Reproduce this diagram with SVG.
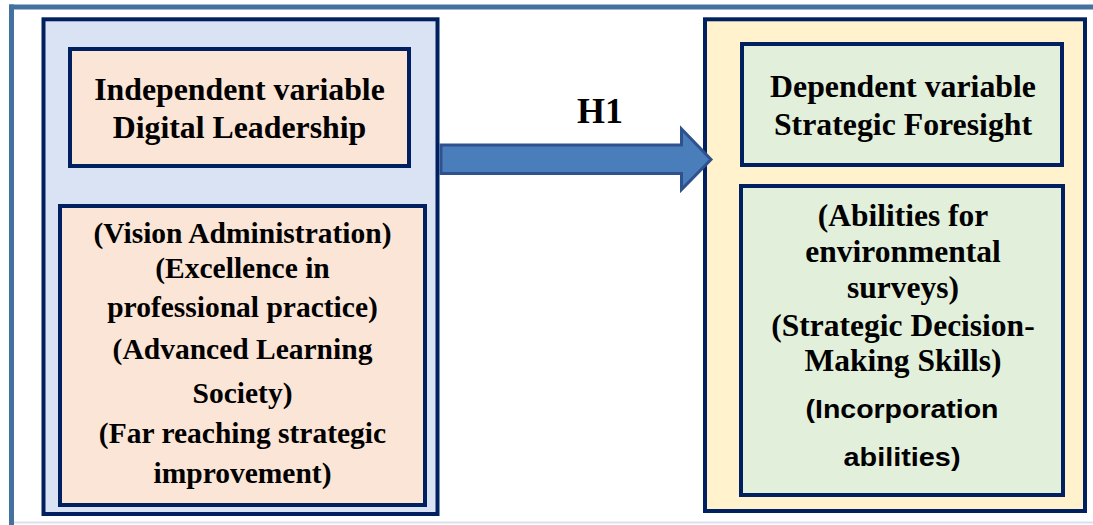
<svg xmlns="http://www.w3.org/2000/svg" width="1093" height="525" viewBox="0 0 1093 525">
<style>
.frame{fill:none;stroke:#4472a0;stroke-width:5}
.cont{stroke:#002060;stroke-width:4}
.box{stroke:#002060;stroke-width:4}
.t{font-family:"Liberation Serif","Times New Roman",serif;font-weight:bold;fill:#000;text-anchor:middle}
.s{font-family:"Liberation Sans",Arial,sans-serif;font-weight:bold;fill:#000;text-anchor:middle}
</style>
<rect width="1093" height="525" fill="#ffffff"/>
<g id="frame">
<line x1="9" y1="7" x2="1093" y2="7" class="frame"/>
<line x1="11.5" y1="4.5" x2="11.5" y2="525" class="frame"/>
<line x1="14" y1="522.5" x2="1093" y2="522.5" stroke="#d9e1ee" stroke-width="2"/>
</g>
<g id="independent-container">
<rect x="43.5" y="19.3" width="394" height="494.7" fill="#dae3f3" class="cont"/>
</g>
<g id="independent-title">
<rect x="70" y="49" width="339" height="117" fill="#fbe5d6" class="box"/>
<text class="t" font-size="31.8" x="239.5" y="100">Independent variable</text>
<text class="t" font-size="31.8" x="239.5" y="138">Digital Leadership</text>
</g>
<g id="independent-dimensions">
<rect x="60" y="206" width="365" height="299" fill="#fbe5d6" class="box"/>
<text class="t" font-size="29.5" x="242.5" y="243">(Vision Administration)</text>
<text class="t" font-size="29.5" x="242.5" y="278">(Excellence in</text>
<text class="t" font-size="29.5" x="242.5" y="317">professional practice)</text>
<text class="t" font-size="29.5" x="242.5" y="359">(Advanced Learning</text>
<text class="t" font-size="29.5" x="242.5" y="403">Society)</text>
<text class="t" font-size="29.5" x="242.5" y="443">(Far reaching strategic</text>
<text class="t" font-size="29.5" x="242.5" y="483">improvement)</text>
</g>
<g id="dependent-container">
<rect x="705" y="19.3" width="380" height="491.7" fill="#fff2cc" class="cont"/>
</g>
<g id="dependent-title">
<rect x="742" y="44" width="320" height="121" fill="#e2efda" class="box"/>
<text class="t" font-size="31.8" x="903" y="97">Dependent variable</text>
<text class="t" font-size="31.8" x="903" y="135">Strategic Foresight</text>
</g>
<g id="dependent-dimensions">
<rect x="741" y="186" width="322" height="309" fill="#e2efda" class="box"/>
<text class="t" font-size="31.5" x="903" y="226">(Abilities for</text>
<text class="t" font-size="31.5" x="903" y="262">environmental</text>
<text class="t" font-size="31.5" x="903" y="298">surveys)</text>
<text class="t" font-size="31.5" x="903" y="336">(Strategic Decision-</text>
<text class="t" font-size="31.5" x="903" y="371">Making Skills)</text>
<text class="s" font-size="26" x="902" y="418" textLength="193" lengthAdjust="spacingAndGlyphs">(Incorporation</text>
<text class="s" font-size="26" x="902" y="466" textLength="117" lengthAdjust="spacingAndGlyphs">abilities)</text>
</g>
<g id="connectors">
<polygon points="441,145 681.5,145 681.5,129 711,159.5 681.5,189.5 681.5,173.5 441,173.5" fill="#4a7ebb" stroke="#2f528f" stroke-width="3" stroke-linejoin="miter"/>
<text class="t" font-size="36" x="600" y="123">H1</text>
</g>
</svg>
